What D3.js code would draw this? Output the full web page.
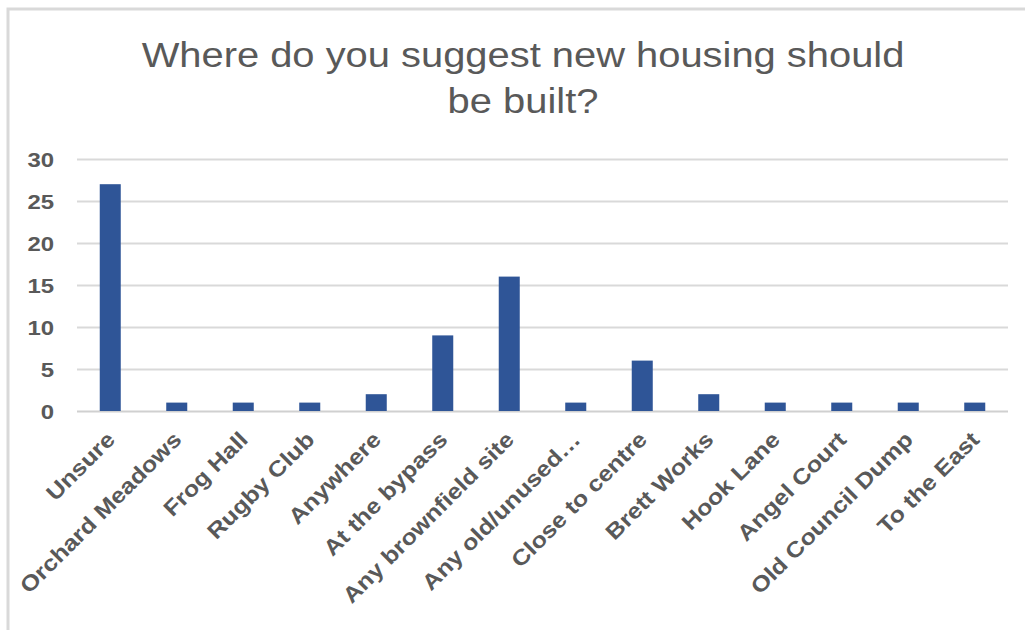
<!DOCTYPE html>
<html><head><meta charset="utf-8">
<script src="https://cdn.jsdelivr.net/npm/d3@7"></script>
<style>html,body{margin:0;padding:0;background:#fff;} svg{display:block;}</style>
</head><body>
<svg id="chart" width="1025" height="630"></svg>
<script>
const categories = ["Unsure","Orchard Meadows","Frog Hall","Rugby Club","Anywhere","At the bypass","Any brownfield site","Any old/unused…","Close to centre","Brett Works","Hook Lane","Angel Court","Old Council Dump","To the East"];
const counts = [27,1,1,1,2,9,16,1,6,2,1,1,1,1];
const yTicks = [0,5,10,15,20,25,30];
const titleLines = ["Where do you suggest new housing should","be built?"];

const W = 1025, H = 630;
const plot = {left: 77, right: 1008, top: 159, bottom: 411};
const stretch = 1.14;           // glyphs are drawn slightly wide
const ink = "#595959";
const font = "'Liberation Sans', Arial, sans-serif";
const barColor = "#2f5597";

const svg = d3.select("#chart");

// chart frame
svg.append("rect")
  .attr("x", 8).attr("y", 9).attr("width", W).attr("height", H)
  .attr("fill", "#fff").attr("stroke", "#d9d9d9").attr("stroke-width", 3);

const x = d3.scaleBand().domain(categories)
  .range([plot.left, plot.right]).paddingInner(0.684).paddingOuter(0.342);
const y = d3.scaleLinear().domain([0, 30]).range([plot.bottom, plot.top]);

// title
svg.append("g").selectAll("text").data(titleLines).join("text")
  .attr("transform", (d, i) => `translate(523,${67 + i * 46}) scale(${stretch},1)`)
  .attr("text-anchor", "middle")
  .attr("font-family", font).attr("font-size", 35).attr("fill", ink)
  .text(d => d);

// value axis with horizontal gridlines
const yAxis = svg.append("g").attr("transform", `translate(${plot.left},0)`)
  .call(d3.axisLeft(y).tickValues(yTicks).tickSize(-(plot.right - plot.left)));
yAxis.select(".domain").remove();
yAxis.selectAll(".tick line")
  .attr("stroke", d => d === 0 ? "#d0d0d0" : "#d9d9d9").attr("stroke-width", 2);
yAxis.selectAll(".tick text")
  .attr("x", 0).attr("dy", "0.35em")
  .attr("transform", `translate(-23,0) scale(${stretch},1)`)
  .attr("text-anchor", "end")
  .attr("font-family", font).attr("font-size", 21).attr("font-weight", "bold").attr("fill", ink);

// bars
svg.append("g").selectAll("rect").data(categories).join("rect")
  .attr("x", d => x(d))
  .attr("width", x.bandwidth())
  .attr("y", (d, i) => y(counts[i]))
  .attr("height", (d, i) => y(0) - y(counts[i]))
  .attr("fill", barColor);

// category axis with rotated labels
const xAxis = svg.append("g").attr("transform", `translate(0,${plot.bottom})`)
  .call(d3.axisBottom(x).tickSize(0));
xAxis.select(".domain").remove();
xAxis.selectAll(".tick text")
  .attr("x", 0).attr("y", 0).attr("dy", 0)
  .attr("transform", `translate(6,30) rotate(-45) scale(${stretch},1)`)
  .attr("text-anchor", "end")
  .attr("font-family", font).attr("font-size", 22).attr("font-weight", "bold").attr("fill", ink);
</script>
</body></html>
